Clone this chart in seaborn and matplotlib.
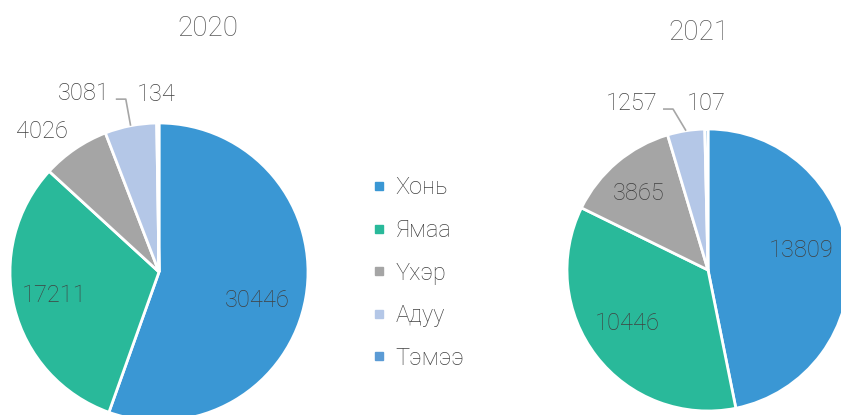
import matplotlib
matplotlib.use("Agg")
import matplotlib.pyplot as plt
from matplotlib.lines import Line2D
import numpy as np
import seaborn as sns

# Livestock counts by species
categories = ["Хонь", "Ямаа", "Үхэр", "Адуу", "Тэмээ"]
values_2020 = [30446, 17211, 4026, 3081, 134]
values_2021 = [13809, 10446, 3865, 1257, 107]
years = ["2020", "2021"]

sns.set_theme(style="white")
plt.rcParams["font.family"] = ["Roboto", "DejaVu Sans"]

colors = sns.color_palette(["#3A97D4", "#29B99A", "#A5A5A5", "#B4C7E7", "#5B9BD5"])
TEXT = "#404040"
TITLE = "#595959"
LEADER = "#A6A6A6"

W, H = 841, 415
fig = plt.figure(figsize=(W / 100, H / 100), dpi=100)
fig.patch.set_facecolor("white")

# layout of each pie in pixels: centre, radius, axes span
pies = [
    dict(values=values_2020, cx=159, cy=272, r=149, x0=0, x1=360,
         title_xy=(208, 29),
         # (radial distance, angle nudge from wedge middle, ha)
         labels=[(0.69, -6.5, "center"), (0.72, -1.0, "center"),
                 (1.23, 5.5, "center"), (1.245, 4.4, "right"),
                 (1.19, 0.4, "center")],
         leader=3),
    dict(values=values_2021, cx=708, cy=270, r=141, x0=480, x1=841,
         title_xy=(699, 33),
         labels=[(0.675, 6.4, "center"), (0.684, -4.2, "center"),
                 (0.735, 1.8, "center"), (1.238, 8.0, "right"),
                 (1.184, 0.0, "center")],
         leader=3),
]

for p, year in zip(pies, years):
    R = p["r"]
    ax = fig.add_axes([p["x0"] / W, 0, (p["x1"] - p["x0"]) / W, 1])
    wedges, _ = ax.pie(p["values"], colors=colors, startangle=90,
                       counterclock=False, radius=1.0,
                       wedgeprops=dict(edgecolor="white", linewidth=2.0))
    ax.set_aspect("auto")
    ax.set_xlim((p["x0"] - p["cx"]) / R, (p["x1"] - p["cx"]) / R)
    ax.set_ylim((p["cy"] - H) / R, p["cy"] / R)
    ax.axis("off")

    for i, (w, v) in enumerate(zip(wedges, p["values"])):
        mid = 0.5 * (w.theta1 + w.theta2)
        dist, dth, ha = p["labels"][i]
        a = np.deg2rad(mid + dth)
        tx, ty = dist * np.cos(a), dist * np.sin(a)
        ax.text(tx, ty, f"{v}", ha=ha, va="center", fontsize=17,
                color=TEXT, fontweight="light")
        if i == p["leader"]:
            sx, sy = tx + 6 / R, ty - 6 / R
            kx = sx + 10 / R
            ex, ey = np.cos(np.deg2rad(mid)), np.sin(np.deg2rad(mid))
            ax.plot([sx, kx, ex], [sy, sy, ey], color=LEADER, lw=1.2,
                    solid_capstyle="butt")

    fig.text(p["title_xy"][0] / W, 1 - p["title_xy"][1] / H, year,
             ha="center", va="center", fontsize=20, color=TITLE,
             fontweight="light")

handles = [Line2D([0], [0], marker="s", linestyle="none", markersize=6,
                  markerfacecolor=c, markeredgecolor=c) for c in colors]
fig.legend(handles, categories, loc="center left",
           bbox_to_anchor=(372 / W, 1 - 273 / H), frameon=False,
           fontsize=17, labelcolor=TEXT, handlelength=0.6,
           handletextpad=0.4, labelspacing=0.83, borderaxespad=0,
           borderpad=0, prop=dict(weight="light", size=17))

fig.savefig("out.png", dpi=100, facecolor="white")
